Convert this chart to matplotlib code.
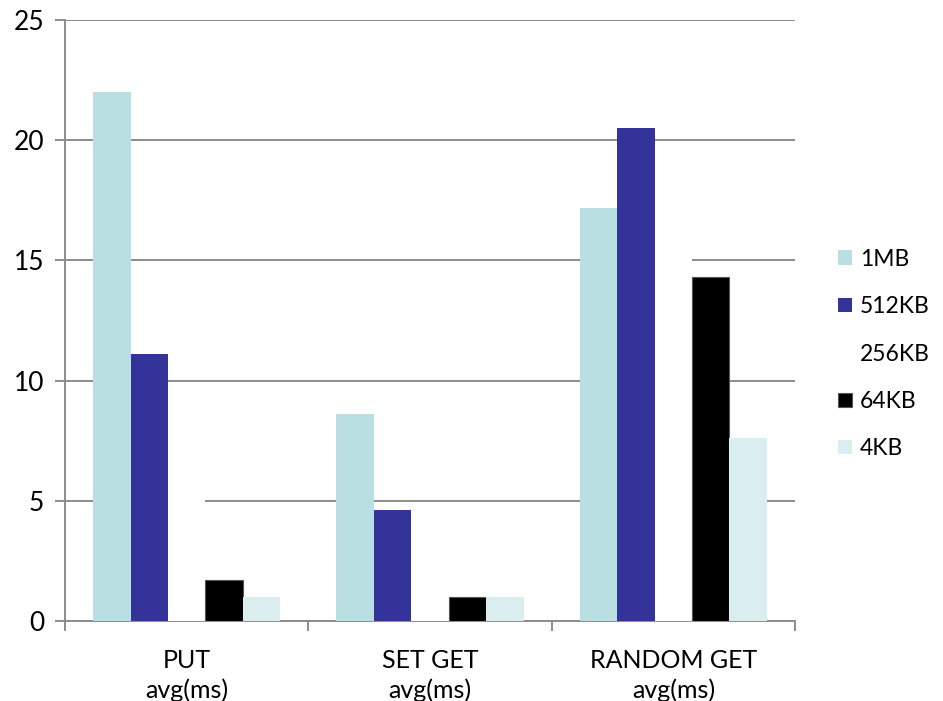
import matplotlib.pyplot as plt
import numpy as np

plt.rcParams['font.family'] = ['Lato', 'DejaVu Sans']

groups = ['PUT\navg(ms)', 'SET GET\navg(ms)', 'RANDOM GET\navg(ms)']
series = ['1MB', '512KB', '256KB', '64KB', '4KB']
vals_1mb = [22.0, 8.6, 17.2]
vals_512kb = [11.1, 4.6, 20.5]
vals_256kb = [7.0, 1.5, 17.0]
vals_64kb = [1.7, 1.0, 14.3]
vals_4kb = [1.0, 1.0, 7.6]
colors = ['#b9dfe3', '#333399', '#ffffff', '#000000', '#daedef']

data = [vals_1mb, vals_512kb, vals_256kb, vals_64kb, vals_4kb]

fig = plt.figure(figsize=(9.43, 7.01), dpi=100)
ax = fig.add_axes([65/943, 80/701, 730/943, 601/701])

w = 1 / 6.5
x = np.arange(len(groups)) + 0.5
for i, (name, v, c) in enumerate(zip(series, data, colors)):
    ec = '#555555' if name == '64KB' else c
    ax.bar(x + (i - 2) * w, v, width=w, color=c, edgecolor=ec,
           linewidth=0.8 if name == '64KB' else 0, label=name, zorder=3)

ax.set_xlim(0, 3)
ax.set_ylim(0, 25)
ax.set_yticks([0, 5, 10, 15, 20, 25])
ax.yaxis.grid(True, color='#8c8c8c', linewidth=1.4, zorder=0)
ax.set_axisbelow(True)

# group separators as major ticks, names as minor tick labels
ax.set_xticks([0, 1, 2, 3])
ax.set_xticklabels([])
ax.set_xticks(x, minor=True)
ax.set_xticklabels(groups, minor=True, fontsize=18, linespacing=1.35)
ax.tick_params(axis='x', which='minor', length=0, pad=20)
ax.tick_params(axis='x', which='major', length=7, width=1.4, color='#8c8c8c', direction='out')
ax.tick_params(axis='y', length=7, width=1.4, color='#8c8c8c', labelsize=19, pad=8)

for s in ['top', 'right']:
    ax.spines[s].set_visible(False)
for s in ['left', 'bottom']:
    ax.spines[s].set_color('#8c8c8c')
    ax.spines[s].set_linewidth(1.4)

leg = fig.legend(loc='center left', bbox_to_anchor=(838/943, 1 - 354/701),
                 frameon=False, fontsize=16.5, handlelength=0.6, handleheight=0.6,
                 handletextpad=0.35, labelspacing=1.15, borderpad=0, borderaxespad=0)

fig.savefig('out.png', dpi=100)
